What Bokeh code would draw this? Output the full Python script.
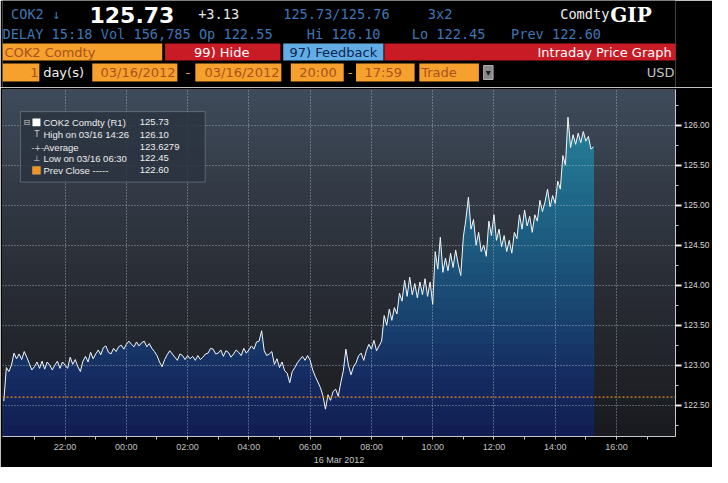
from bokeh.plotting import figure
from bokeh.layouts import column
from bokeh.models import (Range1d, FixedTicker, PrintfTickFormatter, BoxAnnotation,
                          Span, Label, ColumnDataSource)
from bokeh.core.properties import value
from bokeh.embed import file_html
from bokeh.resources import INLINE

# ---------------- data (5-minute samples from 20:00 on 15 Mar 2012) -------------
prices = [
    122.55, 122.97, 122.92, 123.00, 123.15, 123.08, 123.14, 123.07, 123.17, 123.10,   # 20:00
    123.02, 122.94, 122.98, 123.04, 122.96, 123.05, 122.95, 123.04, 123.00, 122.94,   # 20:50
    123.00, 123.05, 122.96, 123.04, 123.00, 122.96, 123.10, 123.01, 123.07, 122.98,   # 21:40
    122.92, 123.05, 123.11, 123.04, 123.16, 123.08, 123.14, 123.19, 123.13, 123.22,   # 22:30
    123.24, 123.16, 123.14, 123.21, 123.17, 123.23, 123.25, 123.20, 123.26, 123.30,   # 23:20
    123.26, 123.23, 123.29, 123.24, 123.28, 123.30, 123.23, 123.27, 123.21, 123.17,   # 00:10
    123.12, 123.04, 122.98, 123.07, 123.13, 123.18, 123.14, 123.10, 123.06, 123.14,   # 01:00
    123.12, 123.07, 123.12, 123.08, 123.11, 123.06, 123.12, 123.07, 123.10, 123.14,   # 01:50
    123.15, 123.21, 123.20, 123.14, 123.15, 123.19, 123.11, 123.18, 123.16, 123.10,   # 02:40
    123.14, 123.19, 123.16, 123.12, 123.21, 123.15, 123.19, 123.24, 123.20, 123.29,   # 03:30
    123.30, 123.43, 123.18, 123.12, 123.14, 123.17, 123.01, 123.08, 122.97, 123.04,   # 04:20
    122.93, 122.90, 122.78, 122.92, 122.97, 123.03, 123.07, 123.11, 123.06, 123.12,   # 05:10
    123.06, 122.94, 122.86, 122.79, 122.72, 122.62, 122.45, 122.63, 122.56, 122.67,   # 06:00
    122.70, 122.61, 122.78, 122.93, 123.20, 123.00, 122.88, 122.98, 123.03, 123.12,   # 06:50
    123.15, 123.06, 123.18, 123.26, 123.20, 123.31, 123.18, 123.24, 123.30, 123.62,   # 07:40
    123.50, 123.70, 123.56, 123.72, 123.64, 123.90, 123.80, 124.06, 123.86, 124.10,   # 08:30
    123.88, 124.02, 123.84, 124.04, 123.88, 124.08, 123.86, 124.04, 123.76, 124.42,   # 09:20
    124.20, 124.60, 124.16, 124.34, 124.18, 124.40, 124.22, 124.44, 124.26, 124.12,   # 10:10
    124.60, 124.82, 125.10, 124.70, 124.82, 124.50, 124.66, 124.42, 124.50, 124.36,   # 11:00
    124.80, 124.62, 124.88, 124.56, 124.70, 124.48, 124.62, 124.42, 124.56, 124.40,   # 11:50
    124.66, 124.58, 124.88, 124.70, 124.94, 124.74, 124.86, 124.66, 124.88, 124.80,   # 12:40
    125.06, 124.92, 125.04, 125.20, 124.98, 125.12, 125.02, 125.30, 125.20, 125.62,   # 13:30
    125.50, 126.10, 125.72, 125.88, 125.76, 125.90, 125.78, 125.92, 125.80, 125.86,   # 14:20
    125.70, 125.73,                                                                   # 15:10
]
minutes = [5 * i for i in range(len(prices))]   # minutes since 20:00

prev_close = 122.60
average = "123.6279"
tick_minutes = [120, 240, 360, 480, 600, 720, 840, 960, 1080, 1200]
tick_labels = ["22:00", "00:00", "02:00", "04:00", "06:00", "08:00", "10:00", "12:00", "14:00", "16:00"]
minor_minutes = [60, 180, 300, 420, 540, 660, 780, 900, 1020, 1140, 1260]
price_ticks = [122.5, 123.0, 123.5, 124.0, 124.5, 125.0, 125.5, 126.0]
price_minor = [122.25, 122.75, 123.25, 123.75, 124.25, 124.75, 125.25, 125.75, 126.25]


def tx(xref):
    return (xref - 11.3) / 30.68 * 60.0


def py(yref):
    return 126.0 - (yref - 134.0) / 83.0


X0, X1 = tx(10), tx(684)
Y0, Y1 = py(457), py(97)


def lerp_colors(stops, levels):
    out = []
    for lv in levels:
        col = stops[-1][1] if lv < stops[-1][0] else stops[0][1]
        for (a, ca), (b, cb) in zip(stops[:-1], stops[1:]):
            if b <= lv <= a:
                f = (a - lv) / (a - b)
                col = tuple(int(round(ca[i] + (cb[i] - ca[i]) * f)) for i in range(3))
                break
        out.append("#%02x%02x%02x" % tuple(col))
    return out


MONO = value("DejaVu Sans Mono")
SANS = value("DejaVu Sans")

# ---------------- header -----------------
hdr = figure(width=712, height=87, x_range=Range1d(8, 720), y_range=Range1d(90, 3),
             toolbar_location=None, output_backend="svg", min_border=0,
             x_axis_type=None, y_axis_type=None,
             background_fill_color="black", border_fill_color="black", outline_line_color=None)
hdr.grid.visible = False

BLUE = "#3f76b6"
ORANGE = "#f6a02e"
OTXT = "#a9531c"
RED = "#c81b26"
HM = "13.6px"
HS = "13px"


def htext(x, y, t, color, size=HM, font=MONO, align="left", style="normal"):
    hdr.text(x=[x], y=[y], text=[t], text_color=color, text_font=font,
             text_font_size=value(size), text_align=align, text_baseline="middle",
             text_font_style=style)


htext(17, 16, "COK2 \u2193", BLUE)
htext(100, 17, "125.73", "white", size="22px", font=SANS, style="bold")
htext(215, 16, "+3.13", "#e8e8e8")
htext(305, 16, "125.73/125.76", BLUE)
htext(458, 16, "3x2", BLUE)
htext(650, 16, "Comdty", "#f0f0f0", align="right")
htext(651, 17, "GIP", "white", size="20px", font=value("DejaVu Serif"), style="bold")

htext(8, 36, "DELAY 15:18 Vol 156,785 Op 122.55", BLUE)
htext(330, 36, "Hi 126.10", BLUE)
htext(441, 36, "Lo 122.45", BLUE)
htext(546, 36, "Prev 122.60", BLUE)

# row 3 bars
hdr.quad(left=[8, 180, 305, 412], right=[177, 302, 411, 728], top=[46] * 4, bottom=[63] * 4,
         fill_color=[ORANGE, RED, "#62ade6", RED], line_color=None)
htext(10, 54.5, "COK2 Comdty", OTXT, size=HS, font=SANS)
htext(240, 54.5, "99) Hide", "white", size=HS, font=SANS, align="center")
htext(358, 54.5, "97) Feedback", "#0c2650", size=HS, font=SANS, align="center")
htext(716, 54.5, "Intraday Price Graph", "white", size=HS, font=SANS, align="right")

# row 4 boxes
hdr.quad(left=[8, 103, 212, 313, 382, 449], right=[47, 193, 303, 369, 444, 512],
         top=[66] * 6, bottom=[84] * 6, fill_color=ORANGE, line_color=None)
hdr.quad(left=[517], right=[527], top=[68], bottom=[82], fill_color="#8a8a8a", line_color="#b0b0b0")
htext(46, 75, "1", OTXT, size=HS, font=SANS, align="right")
htext(51, 75, "day(s)", "#f0f0f0", size=HS, font=SANS)
htext(191, 75, "03/16/2012", OTXT, size=HS, font=SANS, align="right")
htext(204, 75, "-", ORANGE, size=HS, font=SANS, align="center")
htext(301, 75, "03/16/2012", OTXT, size=HS, font=SANS, align="right")
htext(322, 75, "20:00", OTXT, size=HS, font=SANS)
htext(376, 75, "-", ORANGE, size=HS, font=SANS, align="center")
htext(391, 75, "17:59", OTXT, size=HS, font=SANS)
htext(451, 75, "Trade", OTXT, size=HS, font=SANS)
htext(522, 75, "\u25be", "#202020", size="10px", font=SANS, align="center")
htext(719, 75, "USD", "#c4c4c4", size=HS, font=SANS, align="right")

# ---------------- main chart -----------------
p = figure(width=712, height=380, x_range=Range1d(X0, X1), y_range=Range1d(Y0, Y1),
           y_axis_location="right", toolbar_location=None, output_backend="svg",
           min_border_left=2, min_border_right=36, min_border_top=2, min_border_bottom=24,
           background_fill_color="#1b1d22", border_fill_color="black", outline_line_color=None)

n_bg = 30
bg_tops = [Y1 - (Y1 - Y0) * k / n_bg for k in range(n_bg)]
bg_cols = lerp_colors([(126.45, (62, 74, 90)), (125.5, (53, 61, 73)), (124.5, (44, 49, 58)),
                       (123.5, (36, 39, 46)), (122.5, (28, 30, 35)), (122.1, (23, 24, 29))], bg_tops)
bg = p.quad(left=[X0] * n_bg, right=[X1] * n_bg, top=bg_tops, bottom=[Y0] * n_bg,
            fill_color=bg_cols, line_color=None)
bg.level = "image"

area_cols = lerp_colors([(126.45, (40, 134, 160)), (125.5, (33, 112, 142)), (124.5, (28, 88, 125)),
                         (123.5, (24, 62, 108)), (123.0, (21, 46, 98)), (122.1, (17, 26, 80))], bg_tops)
for top, col in zip(bg_tops, area_cols):
    src = ColumnDataSource(dict(x=minutes, y1=[Y0] * len(prices), y2=[min(v, top) for v in prices]))
    r = p.varea(x="x", y1="y1", y2="y2", source=src, fill_color=col)
    r.level = "image"

p.line(minutes, prices, line_color="#f4f4f4", line_width=1)

p.xgrid.ticker = FixedTicker(ticks=tick_minutes)
p.ygrid.ticker = FixedTicker(ticks=price_ticks)
for g in (p.xgrid, p.ygrid):
    g.grid_line_color = "#b4bec8"
    g.grid_line_alpha = 0.8
    g.grid_line_dash = "1 2"
    g.level = "underlay"

xa = p.xaxis[0]
xa.ticker = FixedTicker(ticks=tick_minutes, minor_ticks=minor_minutes)
xa.major_label_overrides = {m: l for m, l in zip(tick_minutes, tick_labels)}
xa.axis_label = "16 Mar 2012"
xa.axis_label_text_font_style = "normal"
xa.axis_label_text_font_size = "9px"
xa.axis_label_text_color = "#c4c4c4"
xa.axis_label_text_font = "Liberation Sans"
xa.axis_label_standoff = 0
xa.major_label_text_font_size = "9px"
xa.major_label_text_font = "Liberation Sans"
xa.major_label_text_color = "#c4c4c4"
xa.major_label_standoff = 2
xa.axis_line_color = "#c8c8c8"
xa.major_tick_line_color = "#c8c8c8"
xa.minor_tick_line_color = "#c8c8c8"
xa.major_tick_out = 3
xa.major_tick_in = 0
xa.minor_tick_out = 3
xa.minor_tick_in = 0

ya = p.yaxis[0]
ya.ticker = FixedTicker(ticks=price_ticks, minor_ticks=price_minor)
ya.formatter = PrintfTickFormatter(format="%.2f")
ya.major_label_text_font_size = "8.5px"
ya.major_label_text_font = "Liberation Sans"
ya.major_label_text_color = "#d8d8d8"
ya.major_label_standoff = 2
ya.axis_line_color = "#c8c8c8"
ya.major_tick_line_color = "#eeeeee"
ya.major_tick_line_width = 2
ya.major_tick_out = 6
ya.major_tick_in = 0
ya.minor_tick_line_color = "#c8c8c8"
ya.minor_tick_out = 3
ya.minor_tick_in = 0

p.add_layout(Span(location=prev_close, dimension="width", line_color="#e8862a",
                  line_dash="2 2", line_width=1.2))

p.add_layout(Label(x=X1, y=prices[-1], x_offset=3, text="%.2f" % prices[-1],
                   text_font_size="8px", text_font="Liberation Sans", text_color="black",
                   text_baseline="middle", background_fill_color="white"))

p.add_layout(BoxAnnotation(left=tx(28), right=tx(213), top=py(120), bottom=py(193),
                           fill_color="#2a333f", fill_alpha=0.85,
                           line_color="#c4ccd4", line_width=1))
rows = ["COK2 Comdty (R1)", "High on 03/16 14:26", "Average", "Low on 03/16 06:30", "Prev Close -----"]
vals = ["%.2f" % prices[-1], "%.2f" % max(prices), average, "%.2f" % min(prices), "%.2f" % prev_close]
row_y = [131, 144, 157, 168.5, 181]
for t, v, yy in zip(rows, vals, row_y):
    p.add_layout(Label(x=tx(51), y=py(yy), text=t, text_font_size="9.5px", text_font="Liberation Sans",
                       text_color="#eeeeee", text_baseline="middle"))
    p.add_layout(Label(x=tx(147.5), y=py(yy), text=v, text_font_size="9.5px", text_font="Liberation Sans",
                       text_color="#eeeeee", text_baseline="middle"))
p.add_layout(BoxAnnotation(left=tx(40), right=tx(48), top=py(127), bottom=py(135),
                           fill_color="white", fill_alpha=1, line_color=None))
p.add_layout(BoxAnnotation(left=tx(40), right=tx(48), top=py(177), bottom=py(185),
                           fill_color="#f39422", fill_alpha=1, line_color="#ffd090"))
for ch, xx, yy in [("\u229f", 31, 131), ("T", 42, 144), ("-+-", 39, 157), ("\u22a5", 41, 168.5)]:
    p.add_layout(Label(x=tx(xx), y=py(yy), text=ch, text_font_size="8px", text_font="DejaVu Sans",
                       text_color="#d0d0d0", text_baseline="middle"))

layout = column(hdr, p, spacing=0)
open("out.html", "w").write(file_html(layout, INLINE))
